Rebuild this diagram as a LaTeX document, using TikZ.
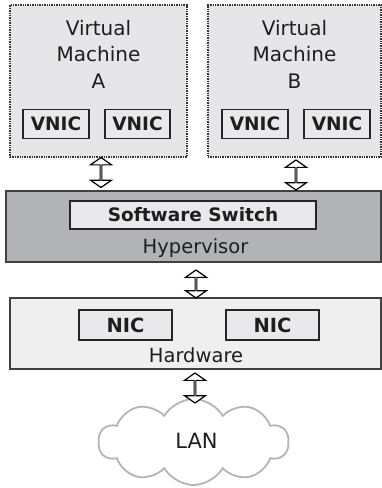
\documentclass[tikz,border=0pt]{standalone}
\usepackage{fontspec}
\setmainfont{DejaVu Sans}
\usetikzlibrary{shapes.arrows,shapes.symbols}
\definecolor{vmfill}{HTML}{E6E6E8}
\definecolor{hypfill}{HTML}{B1B3B6}
\definecolor{hwfill}{HTML}{EFEFEF}
\definecolor{boxfill}{HTML}{E9E9EB}
\definecolor{cloudline}{HTML}{B4B4B4}
\definecolor{txt}{HTML}{1E1E1E}
\tikzset{
  vmbox/.style={draw=black!80, densely dotted, line width=1.4pt, fill=vmfill, minimum width=#1, minimum height=152pt, inner sep=0pt},
  layer/.style={draw=black!75, line width=1.2pt, minimum height=71pt, inner sep=0pt},
  inbox/.style={draw=black!85, line width=1.6pt, fill=boxfill, minimum height=29pt, inner sep=0pt, font=\fontsize{18.5}{20}\selectfont\bfseries, text=txt},
  lbl/.style={font=\fontsize{20}{26.5}\selectfont, text=txt, align=center, inner sep=0pt},
  dbl/.style={double arrow, draw=black, fill=white, line width=1.2pt, shape border rotate=90, minimum width=21pt, double arrow head extend=6.5pt, double arrow tip angle=110, minimum height=#1, inner sep=0pt},
}
\begin{document}
\begin{tikzpicture}[x=1pt,y=-1pt]
\useasboundingbox (0,0) rectangle (382,488);
% virtual machines
\node[vmbox=177pt] (vmA) at (98.5,81) {};
\node[vmbox=173pt] (vmB) at (294.5,81) {};
\node[lbl, anchor=north] (tA) at (98.5,20) {Virtual\\Machine\\A};
\node[lbl, anchor=north] (tB) at (294.5,20) {Virtual\\Machine\\B};
\node[inbox, minimum width=66pt] (va1) at (56,124) {VNIC};
\node[inbox, minimum width=65pt] (va2) at (137.5,124) {VNIC};
\node[inbox, minimum width=66pt] (vb1) at (255,124) {VNIC};
\node[inbox, minimum width=66pt] (vb2) at (337,124) {VNIC};
% hypervisor
\node[layer, fill=hypfill, minimum width=375pt] (hyp) at (193.5,226.5) {};
\node[inbox, minimum width=246pt, minimum height=28pt] (sw) at (193,215) {Software Switch};
\node[lbl, font=\fontsize{19.5}{22}\selectfont, anchor=base] (thyp) at (195.5,253) {Hypervisor};
% hardware
\node[layer, fill=hwfill, minimum width=371pt] (hw) at (195.5,333.5) {};
\node[inbox, minimum width=93pt, minimum height=30pt, font=\fontsize{19.5}{22}\selectfont\bfseries] (nic1) at (125.5,325) {NIC};
\node[inbox, minimum width=93pt, minimum height=30pt, font=\fontsize{19.5}{22}\selectfont\bfseries] (nic2) at (272.5,325) {NIC};
\node[lbl, font=\fontsize{19.5}{22}\selectfont, anchor=base] (thw) at (196,362) {Hardware};
% LAN cloud
\node[cloud, cloud puffs=10, cloud puff arc=120, aspect=2.2, draw=cloudline, line width=1.8pt, fill=white, minimum width=190pt, minimum height=86pt, inner sep=0pt] (lan) at (193.5,442) {};
\node[lbl, font=\fontsize{21}{24}\selectfont, anchor=base] (tlan) at (196.5,448) {LAN};
% arrows
\node[dbl=30pt] (a1) at (101,172.5) {};
\node[dbl=30pt] (a2) at (296,175) {};
\node[dbl=28pt] (a3) at (196,284) {};
\node[dbl=30pt] (a4) at (195,388) {};
\end{tikzpicture}
\end{document}
